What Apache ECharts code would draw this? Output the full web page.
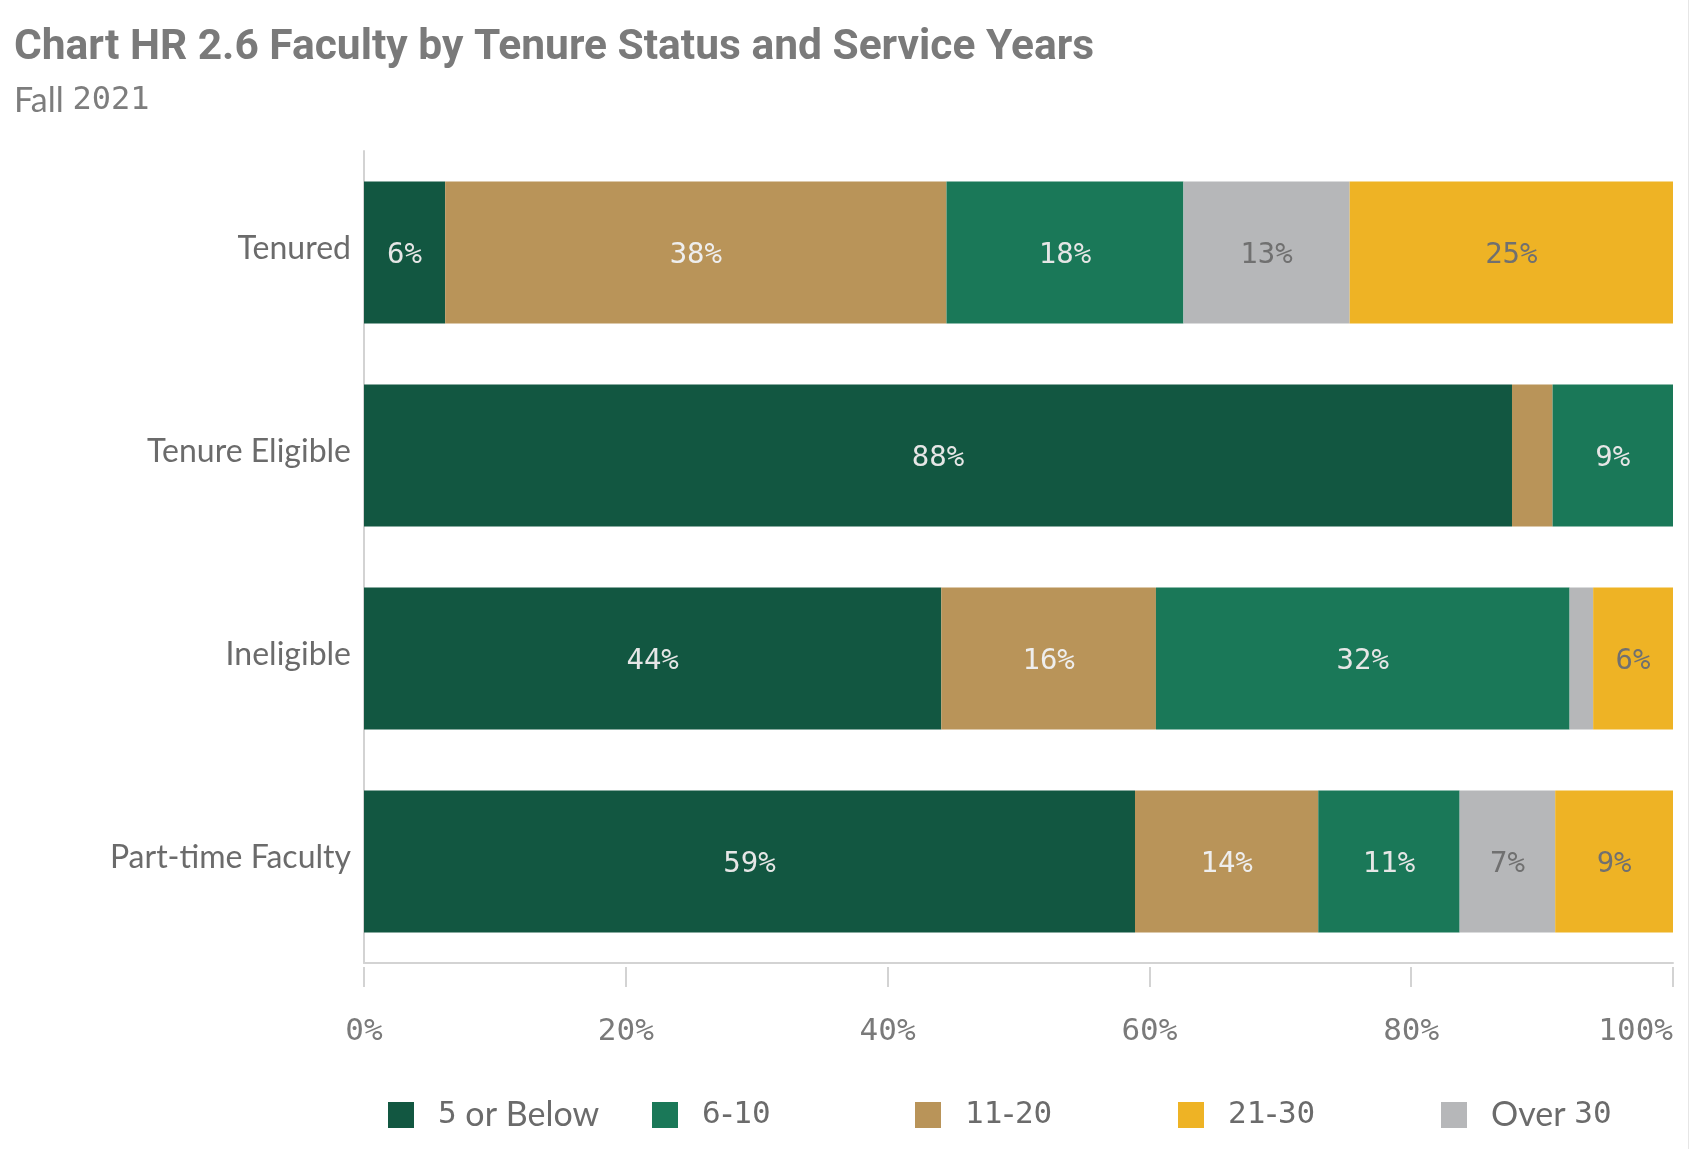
<!DOCTYPE html>
<html>
<head>
<meta charset="utf-8">
<script src="https://cdn.jsdelivr.net/npm/echarts@6/dist/echarts.min.js"></script>
<style>
html,body{margin:0;padding:0;background:#fff;}
#chart{width:1690px;height:1149px;}
</style>
</head>
<body>
<div id="chart"></div>
<script>
var categories = ['Tenured', 'Tenure Eligible', 'Ineligible', 'Part-time Faculty'];
var below5 = [6.2, 87.7, 44.1, 58.9];
var y11to20 = [38.3, 3.1, 16.4, 14.0];
var y6to10 = [18.1, 9.2, 31.6, 10.8];
var over30 = [12.7, 0, 1.8, 7.3];
var y21to30 = [24.7, 0, 6.1, 9.0];
var legendOrder = ['5 or Below', '6-10', '11-20', '21-30', 'Over 30'];
var xTicks = [0, 20, 40, 60, 80, 100];

var MONO = 'DejaVu Sans Mono';
var SANS = 'Lato';

function mk(name, data, color, labelColor) {
  return {
    name: name, type: 'bar', stack: 'total', data: data, barWidth: 142,
    itemStyle: { color: color },
    label: {
      show: true, position: 'inside', color: labelColor, offset: [0, 3],
      fontFamily: MONO, fontSize: 29,
      formatter: function (p) { return p.value >= 5 ? Math.round(p.value) + '%' : ''; }
    },
    emphasis: { disabled: true }
  };
}

var legendLefts = [383, 647, 910, 1173, 1436];
var legends = legendOrder.map(function (n, i) {
  return {
    data: [n], left: legendLefts[i], top: 1093,
    icon: 'rect', itemWidth: 26, itemHeight: 26, selectedMode: false,
    formatter: function (s) { return s.replace(/(\d+)/g, '{m|$1}'); },
    textStyle: {
      fontFamily: SANS, fontSize: 34, color: '#6b6b6b', padding: [0, 0, 0, 19],
      rich: { m: { fontFamily: MONO, fontSize: 31, color: '#6b6b6b' } }
    }
  };
});

var chart = echarts.init(document.getElementById('chart'));
chart.setOption({
  animation: false,
  backgroundColor: '#ffffff',
  title: {
    left: 9, top: 22,
    text: 'Chart HR 2.6 Faculty by Tenure Status and Service Years',
    textStyle: { fontFamily: 'Roboto', fontWeight: 'bold', fontSize: 42.5, color: '#7a7a7a' },
    subtext: '{a|Fall }{m|2021}',
    itemGap: 14,
    subtextStyle: {
      rich: {
        a: { fontFamily: SANS, fontSize: 34, color: '#7d7d7d' },
        m: { fontFamily: MONO, fontSize: 32, color: '#7d7d7d' }
      }
    }
  },
  legend: legends,
  graphic: [{
    type: 'rect', shape: { x: 1688, y: 0, width: 1, height: 1149 },
    style: { fill: '#e6e6e6' }, silent: true
  }],
  grid: { left: 364, right: 17, top: 151, bottom: 186, containLabel: false, outerBoundsMode: 'none' },
  xAxis: [{
    type: 'value', min: 0, max: 100, interval: 20, position: 'bottom',
    axisLine: { show: true, lineStyle: { color: '#d3d3d3', width: 2 } },
    axisTick: { show: false }, axisLabel: { show: false }, splitLine: { show: false }
  }, {
    type: 'value', min: 0, max: 100, interval: 20, position: 'bottom', offset: 4,
    axisLine: { show: false },
    axisTick: { show: true, length: 20, lineStyle: { color: '#d3d3d3', width: 2 } },
    axisLabel: {
      show: true, margin: 50, fontFamily: MONO, fontSize: 31, lineHeight: 30, color: '#7a7a7a',
      alignMaxLabel: 'right',
      formatter: function (v) { return xTicks.indexOf(v) >= 0 ? v + '%' : ''; }
    },
    splitLine: { show: false }
  }],
  yAxis: {
    type: 'category', data: categories, inverse: true,
    axisLine: { show: true, lineStyle: { color: '#d3d3d3', width: 2 } },
    axisTick: { show: false },
    axisLabel: {
      margin: 13,
      formatter: function (v) { return '{c|' + v + '}'; },
      rich: { c: { fontFamily: SANS, fontSize: 32, color: '#6b6b6b', padding: [0, 0, 8, 0] } }
    }
  },
  series: [
    mk('5 or Below', below5, '#125741', '#e6e6e6'),
    mk('11-20', y11to20, '#b99459', '#eeeeee'),
    mk('6-10', y6to10, '#1a7858', '#e6e6e6'),
    mk('Over 30', over30, '#b6b7b9', '#707070'),
    mk('21-30', y21to30, '#eeb325', '#707070')
  ]
});
</script>
</body>
</html>
